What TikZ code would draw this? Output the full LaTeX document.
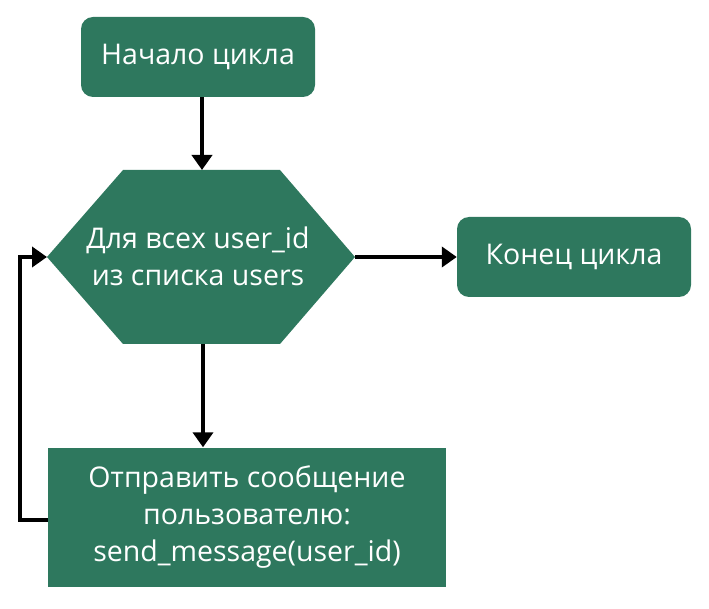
\documentclass[tikz,border=0pt]{standalone}
\usepackage{fontspec}
\setmainfont{Open Sans}
\usetikzlibrary{arrows.meta}
\definecolor{boxgreen}{RGB}{46,120,94}
\begin{document}
\begin{tikzpicture}[x=1pt,y=-1pt,
  box/.style={fill=boxgreen,text=white,font=\fontsize{28.5}{37}\selectfont,align=center,inner sep=0pt},
  conn/.style={line width=4.5pt,-{Triangle[length=15pt,width=20pt]}}]
\useasboundingbox (0,0) rectangle (709,609);
\node[box,rounded corners=12pt,minimum width=234pt,minimum height=80pt] (start) at (198,57) {Начало цикла};
\node[box,rounded corners=12pt,minimum width=234pt,minimum height=80pt] (end) at (574,257) {Конец цикла};
\node[box,minimum width=398pt,minimum height=139pt] (send) at (247,517) {Отправить сообщение\\пользователю:\\send\_message(user\_id)};
\fill[boxgreen] (47,257) -- (123,170) -- (280,170) -- (355,257) -- (280,344) -- (123,344) -- cycle;
\coordinate (hexL) at (47,257);
\coordinate (hexR) at (355,257);
\coordinate (hexT) at (202,170);
\coordinate (hexB) at (203,344);
\node[box,fill=none] (hex) at (198,256) {Для всех user\_id\\из списка users};
\draw[conn] (start.south -| hexT) -- (hexT);
\draw[conn] (hexR) -- (end.west);
\draw[conn] (hexB) -- (hexB |- send.north);
\coordinate (loopB) at (20,520);
\draw[conn] (send.west |- loopB) -- (loopB) |- (hexL);
\end{tikzpicture}
\end{document}
